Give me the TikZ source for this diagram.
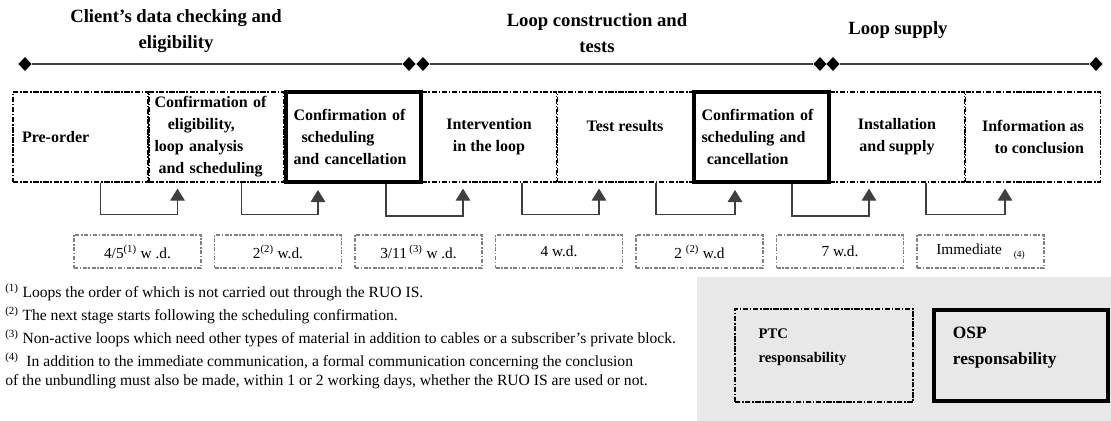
\documentclass[tikz,border=0pt]{standalone}
\usepackage{fontspec}
\setmainfont{Liberation Serif}
\usetikzlibrary{arrows.meta,shapes.geometric,positioning}

\definecolor{linegray}{HTML}{3F3F3F}
\definecolor{boxgray}{HTML}{808080}
\definecolor{legendbg}{HTML}{E8E8E8}

\tikzset{
  phasetitle/.style={font=\fontsize{14}{19}\selectfont\bfseries, align=center, inner sep=0pt},
  milestone/.style={diamond, fill=black, inner sep=0pt, minimum width=10pt, minimum height=10.5pt},
  timeline/.style={draw=linegray, line width=1.1pt},
  stagebox/.style={draw, line width=1pt, dash pattern=on 4pt off 1.2pt on 1.2pt off 1.2pt,
    minimum width=101.25pt, minimum height=67.5pt, inner sep=3pt,
    font=\fontsize{12}{16.5}\selectfont\bfseries, align=center},
  ospbox/.style={stagebox, solid, line width=3pt},
  delaybox/.style={draw=boxgray, line width=1pt, dash pattern=on 3pt off 1.2pt on 1.2pt off 1.2pt,
    minimum width=95.25pt, minimum height=24.75pt, font=\fontsize{11.5}{13}\selectfont},
  flowlink/.style={draw=linegray, line width=0.8pt, -{Triangle[width=11pt,length=9pt]}},
  notetext/.style={anchor=west, inner sep=0pt, font=\fontsize{11.7}{14}\selectfont},
  legtext/.style={anchor=west, inner sep=0pt, align=left},
}

\begin{document}
\begin{tikzpicture}[x=0.75pt,y=-0.75pt]
\useasboundingbox (0,0) rectangle (1111,421);

% legend background
\fill[legendbg] (697,277) rectangle (1111,421);

% phases and time line
\node[phasetitle] (ph1) at (176,31) {Client's data checking and\\eligibility};
\node[phasetitle] (ph2) at (597,33) {Loop construction and\\tests};
\node[phasetitle] (ph3) at (898,30) {Loop supply};

\node[milestone] (t1) at (25,64) {};
\node[milestone] (t2) at (409,64) {};
\node[milestone] (t3) at (423,64) {};
\node[milestone] (t4) at (820,64) {};
\node[milestone] (t5) at (833,64) {};
\node[milestone] (t6) at (1096,64) {};
\draw[timeline] (t1) -- (t2);
\draw[timeline] (t3) -- (t4);
\draw[timeline] (t5) -- (t6);

% stages
\node[stagebox, align=left, text width=87.75pt, inner xsep=6.75pt] (b1) at (80.5,137) {Pre-order};
\node[stagebox, align=left, text width=93pt, inner xsep=3.75pt] (b2) at (216.5,137)
  {Confirmation of\\\hspace*{10pt}eligibility,\\loop analysis\\\hspace*{3pt}and scheduling};
\node[ospbox, align=left, text width=89.25pt, inner xsep=6pt] (b3) at (353,137)
  {Confirmation of\\\hspace*{6pt}scheduling\\and cancellation};
\node[stagebox] (b4) at (489,137) {Intervention\\in the loop};
\node[stagebox] (b5) at (625,137) {Test results\\\mbox{}};
\node[ospbox, align=left, text width=89.25pt, inner xsep=6pt] (b6) at (761,137)
  {Confirmation of\\scheduling and\\\hspace*{4pt}cancellation};
\node[stagebox] (b7) at (897,137) {Installation\\and supply};
\node[stagebox, align=right] (b8) at (1033,137) {Information as\\to conclusion};

% links between stages
\foreach \a/\b/\s/\e in {b1/b2/15/-29.25, b2/b3/18.75/-26.25, b3/b4/24.75/-19.5,
    b4/b5/24.75/-19.5, b5/b6/23.25/-19.5, b6/b7/23.25/-21, b7/b8/21.75/-21}
  \draw[flowlink] ([xshift=\s pt]\a.south) -- ++(0,32) -| ([xshift=\e pt, yshift=-4.5pt]\b.south);

% durations
\node[delaybox] (d1) at (137.5,251.5) {4/5\textsuperscript{(1)} w .d.};
\node[delaybox] (d2) at (278,251.5) {2\textsuperscript{(2)} w.d.};
\node[delaybox] (d3) at (418.5,251.5) {3/11\,\textsuperscript{(3)} w .d.};
\node[delaybox] (d4) at (559,251.5) {4 w.d.};
\node[delaybox] (d5) at (699.5,251.5) {2 \textsuperscript{(2)} w.d};
\node[delaybox] (d6) at (840,251.5) {7 w.d.};
\node[delaybox] (d7) at (980.5,251.5) {Immediate\hspace{9pt}\raisebox{-2.5pt}{\fontsize{7}{8}\selectfont(4)}};

% notes
\node[notetext] (n1) at (5,292) {\textsuperscript{(1)} Loops the order of which is not carried out through the RUO IS.};
\node[notetext] (n2) at (5,315) {\textsuperscript{(2)} The next stage starts following the scheduling confirmation.};
\node[notetext] (n3) at (5,338) {\textsuperscript{(3)} Non-active loops which need other types of material in addition to cables or a subscriber's private block.};
\node[notetext] (n4) at (5,361) {\textsuperscript{(4)}\ \ In addition to the immediate communication, a formal communication concerning the conclusion};
\node[notetext] (n5) at (5,382) {of the unbundling must also be made, within 1 or 2 working days, whether the RUO IS are used or not.};

% legend
\node[draw, line width=1pt, dash pattern=on 4pt off 1.2pt on 1.2pt off 1.2pt,
  minimum width=133.5pt, minimum height=69.75pt] (ptc) at (824,355.5) {};
\node[legtext, font=\fontsize{11}{18}\selectfont\bfseries] (ptclabel) at ([xshift=18pt,yshift=6pt]ptc.west) {PTC\\responsability};
\node[draw, line width=3pt, minimum width=130.5pt, minimum height=68.25pt] (osp) at (1021,355.5) {};
\node[legtext, font=\fontsize{13}{19}\selectfont\bfseries] (osplabel) at ([xshift=15.5pt,yshift=6pt]osp.west) {OSP\\responsability};
\end{tikzpicture}
\end{document}
